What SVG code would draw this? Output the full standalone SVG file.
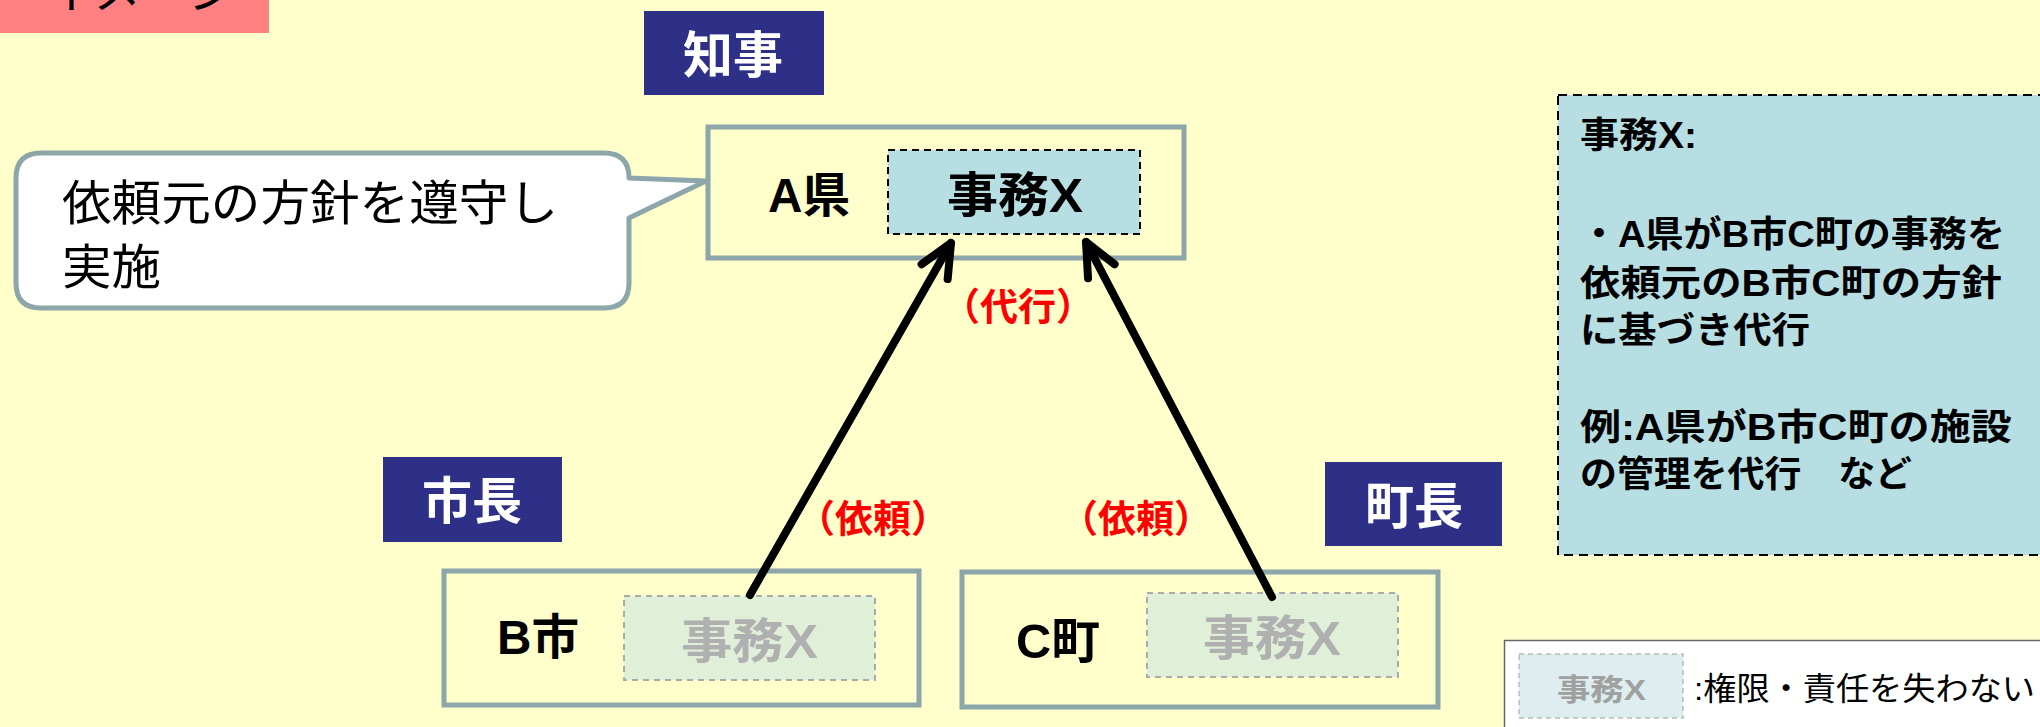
<svg xmlns="http://www.w3.org/2000/svg" width="2040" height="727" viewBox="0 0 2040 727">
<defs>
<style>
.jp{font-family:"Liberation Sans","Noto Sans CJK JP",sans-serif;}
.b{font-weight:bold;}
.box{fill:none;stroke:#8ca6a9;stroke-width:5;}
.navy{fill:#2e3087;}
.wt{fill:#ffffff;font-weight:bold;font-size:50px;}
.red{fill:#ff0000;font-weight:bold;font-size:38px;}
.gx{fill:#b0b0b0;font-weight:bold;font-size:48px;}
.arrow{fill:none;stroke:#000;stroke-width:8;stroke-linecap:round;stroke-linejoin:round;}
</style>
<marker id="chev" markerUnits="userSpaceOnUse" markerWidth="60" markerHeight="60" viewBox="-45 -30 60 60" refX="0" refY="0" orient="auto">
<path d="M-33,-15 L0,0 L-33,15" fill="none" stroke="#000" stroke-width="8" stroke-linecap="round" stroke-linejoin="round"/>
</marker>
</defs>
<rect x="0" y="0" width="2040" height="727" fill="#ffffcc"/>

<g id="title">
<rect x="0" y="0" width="269" height="33" fill="#ff8080"/>
<text class="jp" x="45" y="8" font-size="48" fill="#000">イメージ</text>
</g>

<g id="chiji">
<rect class="navy" x="644" y="11" width="180" height="84"/>
<text class="jp wt" x="683" y="73" textLength="100" lengthAdjust="spacingAndGlyphs">知事</text>
</g>

<g id="bubble">
<path d="M41,153 H604 Q629,153 629,178 L706,181 L629,218 V283 Q629,308 604,308 H41 Q16,308 16,283 V178 Q16,153 41,153 Z" fill="#ffffff" stroke="#8ca6a9" stroke-width="5" stroke-linejoin="round"/>
<text class="jp" x="62" y="220" font-size="48" fill="#000" textLength="496" lengthAdjust="spacingAndGlyphs">依頼元の方針を遵守し</text>
<text class="jp" x="62" y="284" font-size="48" fill="#000" textLength="99" lengthAdjust="spacingAndGlyphs">実施</text>
</g>

<g id="a-ken">
<rect class="box" x="708" y="127" width="476" height="131"/>
<rect x="888" y="150" width="252" height="84" fill="#b7dfe3" stroke="#000" stroke-width="2" stroke-dasharray="7,5"/>
<text class="jp b" x="768" y="212" font-size="48" fill="#000" textLength="82" lengthAdjust="spacingAndGlyphs">A県</text>
<text class="jp b" x="947" y="212" font-size="48" fill="#000" textLength="136" lengthAdjust="spacingAndGlyphs">事務X</text>
</g>

<g id="shicho">
<rect class="navy" x="383" y="457" width="179" height="85"/>
<text class="jp wt" x="422" y="519" textLength="100" lengthAdjust="spacingAndGlyphs">市長</text>
</g>

<g id="chocho">
<rect class="navy" x="1325" y="462" width="177" height="84"/>
<text class="jp wt" x="1365" y="524" textLength="98" lengthAdjust="spacingAndGlyphs">町長</text>
</g>

<g id="b-shi">
<rect class="box" x="444" y="571" width="475" height="134"/>
<rect x="624" y="596" width="251" height="84" fill="#e0efd8" stroke="#aaaaaa" stroke-width="2" stroke-dasharray="6,5"/>
<text class="jp b" x="497" y="654" font-size="48" fill="#000" textLength="82" lengthAdjust="spacingAndGlyphs">B市</text>
<text class="jp gx" x="681" y="658" textLength="137" lengthAdjust="spacingAndGlyphs">事務X</text>
</g>

<g id="c-cho">
<rect class="box" x="962" y="572" width="476" height="135"/>
<rect x="1147" y="593" width="251" height="84" fill="#e0efd8" stroke="#aaaaaa" stroke-width="2" stroke-dasharray="6,5"/>
<text class="jp b" x="1016" y="658" font-size="48" fill="#000" textLength="84" lengthAdjust="spacingAndGlyphs">C町</text>
<text class="jp gx" x="1203" y="655" textLength="138" lengthAdjust="spacingAndGlyphs">事務X</text>
</g>

<g id="connectors">
<path class="arrow" d="M750,595 L951,243" marker-end="url(#chev)"/>
<path class="arrow" d="M1272,597 L1086,242" marker-end="url(#chev)"/>
<text class="jp red" x="942" y="320">（代行）</text>
<text class="jp red" x="797" y="532">（依頼）</text>
<text class="jp red" x="1060" y="532">（依頼）</text>
</g>

<g id="info">
<rect x="1558" y="95" width="490" height="460" fill="#b7dfe3" stroke="#000" stroke-width="2" stroke-dasharray="9,6"/>
<g class="jp b" font-size="36" fill="#000">
<text x="1580" y="148" textLength="117" lengthAdjust="spacingAndGlyphs">事務X:</text>
<text x="1580" y="247" textLength="425" lengthAdjust="spacingAndGlyphs">・A県がB市C町の事務を</text>
<text x="1580" y="296" textLength="422" lengthAdjust="spacingAndGlyphs">依頼元のB市C町の方針</text>
<text x="1580" y="343" textLength="230" lengthAdjust="spacingAndGlyphs">に基づき代行</text>
<text x="1580" y="440" textLength="432" lengthAdjust="spacingAndGlyphs">例:A県がB市C町の施設</text>
<text x="1580" y="487" textLength="332" lengthAdjust="spacingAndGlyphs">の管理を代行　など</text>
</g>
</g>

<g id="legend">
<rect x="1504.5" y="640.5" width="545" height="100" fill="#ffffff" stroke="#666666" stroke-width="1.5"/>
<rect x="1519" y="654" width="164" height="64" fill="#deeef0" stroke="#bbbbbb" stroke-width="1.5" stroke-dasharray="5,4"/>
<text class="jp b" x="1557" y="700" font-size="30" fill="#a0a0a0" textLength="89" lengthAdjust="spacingAndGlyphs">事務X</text>
<text class="jp" x="1694" y="700" font-size="32" fill="#000" textLength="341" lengthAdjust="spacingAndGlyphs">:権限・責任を失わない</text>
</g>
</svg>
